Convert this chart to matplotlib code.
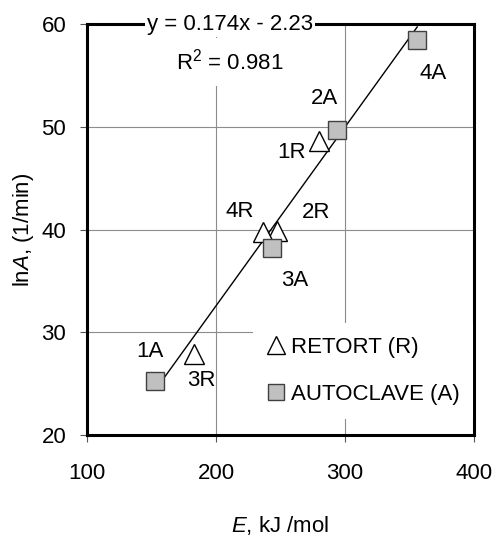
import numpy as np
import matplotlib
matplotlib.use("Agg")
import matplotlib.pyplot as plt

plt.rcParams["font.family"] = ["Liberation Sans", "DejaVu Sans"]
plt.rcParams["mathtext.fontset"] = "custom"
plt.rcParams["mathtext.rm"] = "Liberation Sans"
plt.rcParams["mathtext.it"] = "Liberation Sans:italic"

# 数据：活化能 E 与 lnA
retort_names = ["1R", "2R", "3R", "4R"]
retort_E = [279.5, 247.0, 183.0, 236.5]
retort_lnA = [48.6, 39.9, 27.9, 39.8]

autoclave_names = ["1A", "2A", "3A", "4A"]
autoclave_E = [153.0, 293.5, 243.5, 356.0]
autoclave_lnA = [25.3, 49.7, 38.2, 58.4]

slope = 0.174
intercept = -2.23
r2 = 0.981

# 标签偏移（像素）
label_offsets = {
    "1R": (-27, -11), "2R": (40, 18), "3R": (7, -27), "4R": (-23, 20),
    "1A": (-5, 29), "2A": (-12, 31), "3A": (23, -32), "4A": (16, -33),
}

fs = 16
fig = plt.figure(figsize=(4.96, 5.38), dpi=100)
ax = fig.add_axes([0.1754, 0.1914, 0.9556 - 0.1754, 0.9554 - 0.1914])

ax.set_xlim(100, 400)
ax.set_ylim(20, 60)
ax.set_xticks([100, 200, 300, 400])
ax.set_yticks([20, 30, 40, 50, 60])
ax.grid(True, color="#8c8c8c", linewidth=0.8, zorder=0)
ax.set_axisbelow(True)

for s in ax.spines.values():
    s.set_linewidth(2.2)
    s.set_color("black")
ax.tick_params(direction="out", length=5, width=0.8, color="#555555",
               labelsize=fs, pad=10)
ax.tick_params(axis="x", pad=15)

# 趋势线
xs = np.array([min(autoclave_E + retort_E), max(autoclave_E + retort_E)])
ax.plot(xs, slope * xs + intercept, color="black", linewidth=1.0, zorder=3)

ax.plot(retort_E, retort_lnA, linestyle="none", marker="^", markersize=14,
        markerfacecolor="white", markeredgecolor="black", markeredgewidth=1.0,
        label="RETORT (R)", zorder=4)
ax.plot(autoclave_E, autoclave_lnA, linestyle="none", marker="s", markersize=13.5,
        markerfacecolor="#c0c0c0", markeredgecolor="#404040", markeredgewidth=1.0,
        label="AUTOCLAVE (A)", zorder=4)

for names, es, ys in [(retort_names, retort_E, retort_lnA),
                      (autoclave_names, autoclave_E, autoclave_lnA)]:
    for n, e, y in zip(names, es, ys):
        ax.annotate(n, (e, y), xytext=label_offsets[n], textcoords="offset pixels",
                    ha="center", va="center", fontsize=fs, zorder=5)

ax.text(0.3695, 0.998, "y = 0.174x - 2.23", transform=ax.transAxes,
        ha="center", va="center", fontsize=fs, zorder=6,
        bbox=dict(facecolor="white", edgecolor="none", pad=1.5))
ax.text(0.3695, 0.9075, "R$^2$ = %.3f" % r2, transform=ax.transAxes,
        ha="center", va="center", fontsize=fs, zorder=6,
        bbox=dict(facecolor="white", edgecolor="none", pad=8))

leg = ax.legend(loc="upper left", bbox_to_anchor=(0.429, 0.272),
                borderaxespad=0, frameon=True, fancybox=False, fontsize=fs,
                handlelength=0.9, handletextpad=0.2, labelspacing=1.2,
                borderpad=0.6, markerscale=0.9)
leg.get_frame().set_facecolor("white")
leg.get_frame().set_edgecolor("none")
leg.get_frame().set_alpha(1.0)

ax.set_xlabel("$\\it{E}$, kJ /mol", fontsize=fs)
ax.xaxis.set_label_coords(0.5, -0.219)
ax.xaxis.label.set_va("center")
ax.set_ylabel("ln$\\it{A}$, (1/min)", fontsize=fs)
ax.yaxis.set_label_coords(-0.163, 0.5)
ax.yaxis.label.set_va("center")

fig.savefig("out.png", dpi=100)
